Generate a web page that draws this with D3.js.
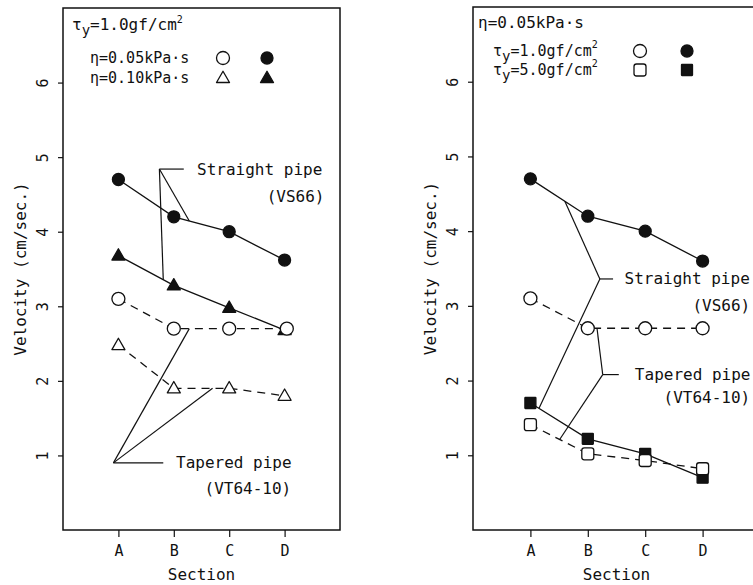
<!DOCTYPE html>
<html>
<head>
<meta charset="utf-8">
<script src="https://cdn.jsdelivr.net/npm/d3@7"></script>
<style>
  html, body { margin: 0; padding: 0; background: #fff; }
  svg { display: block; }
  text { font-family: "DejaVu Sans Mono", "Liberation Mono", monospace; fill: #111; }
</style>
</head>
<body>
<svg id="chart" width="753" height="585"></svg>
<script>
// Sections along the pipe and velocity axis ticks
const sections = ["A", "B", "C", "D"];
const velocityTicks = [1, 2, 3, 4, 5, 6];

// Left panel: yield stress 1.0 gf/cm², two viscosities
const leftStraight005 = [4.7, 4.2, 4.0, 3.62];
const leftStraight010 = [3.68, 3.28, 2.98, 2.68];
const leftTapered005 = [3.1, 2.7, 2.7, 2.7];
const leftTapered010 = [2.48, 1.9, 1.9, 1.8];

// Right panel: viscosity 0.05 kPa·s, two yield stresses
const rightStraightTau1 = [4.7, 4.2, 4.0, 3.6];
const rightTaperedTau1 = [3.1, 2.7, 2.7, 2.7];
const rightStraightTau5 = [1.7, 1.22, 1.02, 0.7];
const rightTaperedTau5 = [1.41, 1.02, 0.93, 0.82];

const svg = d3.select("#chart");
const ink = "#111";

// Point on a series polyline at fractional section index t
function along(values, t) {
  const i = Math.min(Math.floor(t), values.length - 2);
  const f = t - i;
  return [t, values[i] + (values[i + 1] - values[i]) * f];
}

function marker(g, shape, filled, cx, cy) {
  const fill = filled ? ink : "#fff";
  if (shape === "circle") {
    g.append("circle").attr("cx", cx).attr("cy", cy).attr("r", filled ? 6 : 6.5)
      .attr("fill", fill).attr("stroke", ink).attr("stroke-width", 1.3);
  } else if (shape === "triangle") {
    const s = 13, h = s * 0.87;
    g.append("path")
      .attr("d", `M${cx},${cy - h * 0.6}L${cx + s / 2},${cy + h * 0.4}L${cx - s / 2},${cy + h * 0.4}Z`)
      .attr("fill", fill).attr("stroke", ink).attr("stroke-width", 1.3).attr("stroke-linejoin", "round");
  } else {
    const s = filled ? 11 : 12;
    g.append("rect").attr("x", cx - s / 2).attr("y", cy - s / 2).attr("width", s).attr("height", s)
      .attr("rx", filled ? 0.5 : 2.5)
      .attr("fill", fill).attr("stroke", ink).attr("stroke-width", 1.3);
  }
}

function panel(cfg) {
  const g = svg.append("g");
  const x = d3.scaleLinear().domain([-1, sections.length]).range([cfg.left, cfg.right]);
  const y = d3.scaleLinear().domain([0, 7]).range([530, cfg.top]);

  // frame
  g.append("rect").attr("x", cfg.left).attr("y", cfg.top)
    .attr("width", cfg.right - cfg.left).attr("height", 530 - cfg.top)
    .attr("fill", "none").attr("stroke", ink).attr("stroke-width", 1.5);

  // y axis: ticks outside, rotated labels
  const yAxis = d3.axisLeft(y).tickValues(velocityTicks).tickSize(5).tickPadding(0).tickFormat(d3.format("d"));
  const ya = g.append("g").attr("transform", `translate(${cfg.left},0)`).call(yAxis);
  ya.select(".domain").remove();
  ya.selectAll("line").attr("stroke", ink).attr("stroke-width", 1.2);
  ya.selectAll("text")
    .attr("x", null).attr("dy", null)
    .attr("text-anchor", "middle").attr("dominant-baseline", "central")
    .attr("font-size", 15)
    .attr("transform", `translate(-20,0) rotate(-90)`);

  // x axis
  const xAxis = d3.axisBottom(x).tickValues(d3.range(sections.length)).tickSize(7).tickPadding(8)
    .tickFormat(i => sections[i]);
  const xa = g.append("g").attr("transform", `translate(0,530)`).call(xAxis);
  xa.select(".domain").remove();
  xa.selectAll("line").attr("stroke", ink).attr("stroke-width", 1.2);
  xa.selectAll("text").attr("font-size", 15).attr("font-family", null);
  ya.selectAll("text").attr("font-family", null);

  g.append("text").attr("x", x(1.5)).attr("y", 580).attr("text-anchor", "middle")
    .attr("font-size", 16).text("Section");
  g.append("text").attr("transform", `translate(${cfg.left - 43},${y(3.5)}) rotate(-90)`)
    .attr("text-anchor", "middle").attr("dominant-baseline", "central")
    .attr("font-size", 16).text("Velocity (cm/sec.)");

  // annotation leaders
  const ln = d3.line().x(d => x(d[0])).y(d => y(d[1]));
  cfg.notes.forEach(n => {
    g.append("path").attr("d", ln([[n.hx, n.vy], n.vertex]))
      .attr("fill", "none").attr("stroke", ink).attr("stroke-width", 1.2);
    n.tips.forEach(tp => {
      g.append("path").attr("d", ln([n.vertex, tp]))
        .attr("fill", "none").attr("stroke", ink).attr("stroke-width", 1.2);
    });
    g.append("text").attr("x", x(n.tx)).attr("y", y(n.vy)).attr("dominant-baseline", "central")
      .attr("font-size", 16).text(n.label);
    g.append("text").attr("x", x(n.sx)).attr("y", y(n.sy)).attr("dominant-baseline", "central")
      .attr("text-anchor", "end").attr("font-size", 16).text(n.sub);
  });

  // series lines then markers
  cfg.series.forEach(s => {
    const pts = s.values.map((v, i) => [i + (s.shift ? s.shift[i] : 0), v]);
    g.append("path").attr("d", ln(pts)).attr("fill", "none").attr("stroke", ink)
      .attr("stroke-width", 1.3).attr("stroke-dasharray", s.dashed ? "8,6" : null);
  });
  cfg.series.forEach(s => {
    s.values.forEach((v, i) => marker(g, s.shape, s.filled, x(i + (s.shift ? s.shift[i] : 0)), y(v)));
  });

  // legend
  const lg = g.append("g");
  const t = lg.append("text").attr("x", cfg.left + cfg.headDx).attr("y", cfg.top + cfg.headDy).attr("font-size", 16);
  cfg.head(t);
  cfg.legend.forEach((r, k) => {
    const ry = cfg.top + cfg.row0 + k * cfg.rowGap;
    const tt = lg.append("text").attr("x", cfg.left + cfg.rowDx).attr("y", ry)
      .attr("dominant-baseline", "central").attr("font-size", 15);
    r.label(tt);
    marker(lg, r.shape, false, cfg.left + cfg.mk1, ry);
    marker(lg, r.shape, true, cfg.left + cfg.mk2, ry);
  });
  return g;
}

function tauLabel(t, value) {
  t.append("tspan").text("τ");
  t.append("tspan").attr("dy", 5).attr("font-size", 14).text("y");
  t.append("tspan").attr("dy", -5).text("=" + value + "gf/cm");
  t.append("tspan").attr("dy", -7).attr("font-size", 10).text("2");
}
function etaLabel(t, value) { t.text("η=" + value + "kPa·s"); }

panel({
  left: 63, right: 340, top: 8,
  headDx: 9, headDy: 22, rowDx: 27, mk1: 160, mk2: 204, row0: 50, rowGap: 20,
  head: t => tauLabel(t, "1.0"),
  legend: [
    { shape: "circle", label: t => etaLabel(t, "0.05") },
    { shape: "triangle", label: t => etaLabel(t, "0.10") }
  ],
  series: [
    { values: leftStraight005, shape: "circle", filled: true, dashed: false },
    { values: leftStraight010, shape: "triangle", filled: true, dashed: false },
    { values: leftTapered005, shape: "circle", filled: false, dashed: true, shift: [0, 0, 0, 0.04] },
    { values: leftTapered010, shape: "triangle", filled: false, dashed: true }
  ],
  notes: [
    { vertex: [0.74, 4.84], hx: 1.18, vy: 4.84, tx: 1.42, label: "Straight pipe",
      sx: 3.72, sy: 4.47, sub: "(VS66)",
      tips: [along(leftStraight010, 0.81), along(leftStraight005, 1.28)] },
    { vertex: [-0.09, 0.9], hx: 0.81, vy: 0.9, tx: 1.04, label: "Tapered pipe",
      sx: 3.12, sy: 0.56, sub: "(VT64-10)",
      tips: [along(leftTapered005, 1.28), along(leftTapered010, 1.7)] }
  ]
});

panel({
  left: 473, right: 760, top: 7,
  headDx: 5, headDy: 21, rowDx: 20, mk1: 167, mk2: 214, row0: 44, rowGap: 19,
  head: t => etaLabel(t, "0.05"),
  legend: [
    { shape: "circle", label: t => tauLabel(t, "1.0") },
    { shape: "square", label: t => tauLabel(t, "5.0") }
  ],
  series: [
    { values: rightStraightTau1, shape: "circle", filled: true, dashed: false },
    { values: rightTaperedTau1, shape: "circle", filled: false, dashed: true },
    { values: rightStraightTau5, shape: "square", filled: true, dashed: false },
    { values: rightTaperedTau5, shape: "square", filled: false, dashed: true }
  ],
  notes: [
    { vertex: [1.21, 3.36], hx: 1.44, vy: 3.36, tx: 1.64, label: "Straight pipe",
      sx: 3.83, sy: 3.0, sub: "(VS66)",
      tips: [along(rightStraightTau1, 0.6), along(rightStraightTau5, 0.15)] },
    { vertex: [1.26, 2.08], hx: 1.54, vy: 2.08, tx: 1.82, label: "Tapered pipe",
      sx: 3.83, sy: 1.78, sub: "(VT64-10)",
      tips: [along(rightTaperedTau1, 1.16), along(rightTaperedTau5, 0.51)] }
  ]
});
</script>
</body>
</html>
